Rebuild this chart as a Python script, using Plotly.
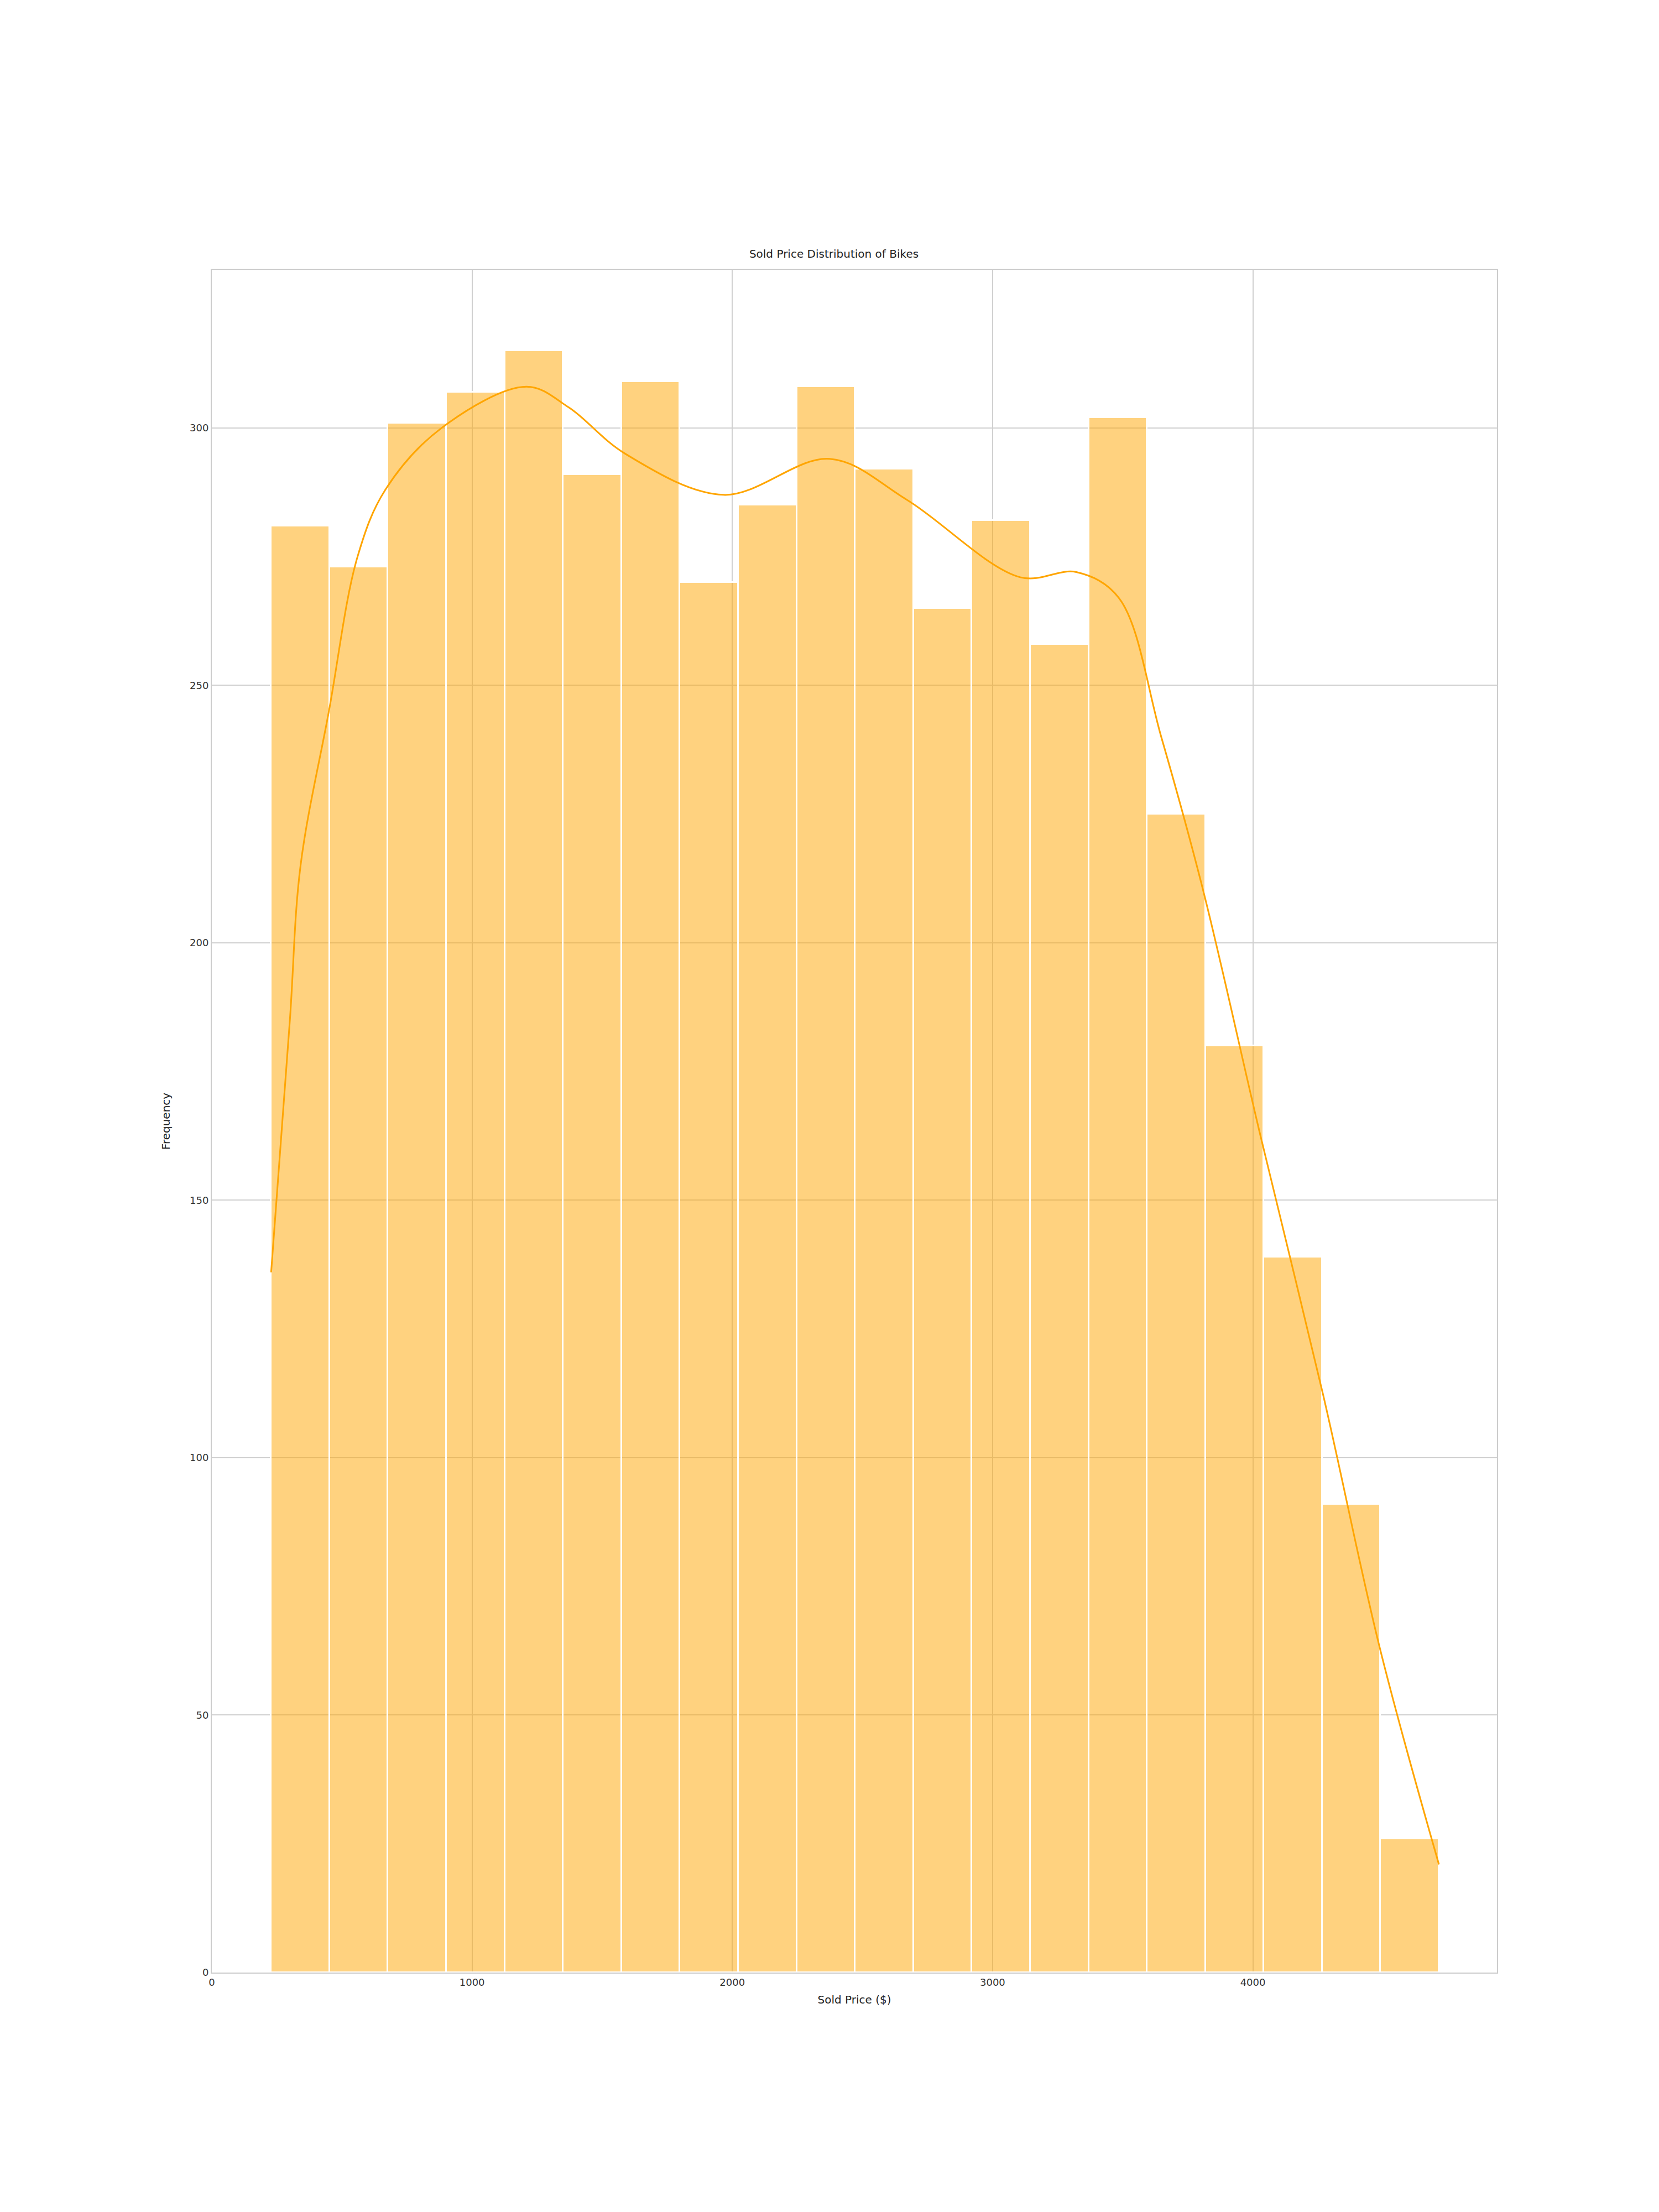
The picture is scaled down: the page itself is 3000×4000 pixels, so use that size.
import plotly.graph_objects as go

bin_start = 228
bin_width = 224.35
counts = [281, 273, 301, 307, 315, 291, 309, 270, 285, 308, 292, 265, 282, 258, 302, 225, 180, 139, 91, 26]
kde_x = [228, 300, 341, 450, 560, 667, 883, 1209, 1371, 1588, 1967, 2374, 2672, 3106, 3322, 3485, 3648, 3810, 4027, 4271, 4488, 4715]
kde_y = [136, 185, 215, 245, 275, 288, 300, 308, 304, 295, 287, 294, 286, 271, 272, 267, 240, 210, 163, 112, 63, 21]

centers = [bin_start + bin_width * (i + 0.5) for i in range(len(counts))]

fig = go.Figure()
fig.add_trace(go.Bar(x=centers, y=counts, width=bin_width,
                     marker=dict(color="rgba(255,165,0,0.5)", line=dict(color="white", width=3))))
fig.add_trace(go.Scatter(x=kde_x, y=kde_y, mode="lines", line=dict(color="orange", width=3, shape="spline")))

ax = dict(showgrid=True, gridcolor="#d0d0d0", gridwidth=2, showline=True, linecolor="#cccccc",
          linewidth=2, mirror=True, zeroline=False, tickfont=dict(size=18, color="#333"), ticks="")
fig.update_layout(
    width=3000, height=4000, template="none", showlegend=False,
    paper_bgcolor="white", plot_bgcolor="white",
    margin=dict(l=375, r=301, t=480, b=441),
    font=dict(family="DejaVu Sans", color="#222"),
    title=dict(text="Sold Price Distribution of Bikes", x=0.5, xanchor="center", y=1 - 458/4000, yanchor="bottom", font=dict(size=20)),
    xaxis=dict(ax, range=[0, 4938], tickvals=[0, 1000, 2000, 3000, 4000], title=dict(text="Sold Price ($)", font=dict(size=20), standoff=15)),
    yaxis=dict(ax, range=[0, 330.7], tickvals=[0, 50, 100, 150, 200, 250, 300], title=dict(text="Frequency", font=dict(size=20), standoff=30)),
    bargap=0,
)
fig.write_html("out.html")
